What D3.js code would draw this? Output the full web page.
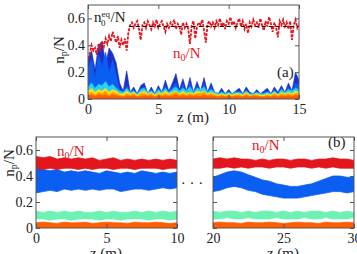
<!DOCTYPE html>
<html>
<head>
<meta charset="utf-8">
<script src="https://cdn.jsdelivr.net/npm/d3@7"></script>
<style>
  body { margin: 0; background: #fff; }
  svg { display: block; }
  svg text { font-family: "Liberation Serif", "DejaVu Serif", serif; }
</style>
</head>
<body>
<script>
// panel (a): z = 0..15, red sampled every 0.125 m, the others every 0.25 m
var redA = [
  0.30,0.34,0.40,0.36,0.38,0.33,0.41,0.37,
  0.43,0.39,0.45,0.41,0.47,0.43,0.50,0.46,
  0.42,0.47,0.38,0.44,0.40,0.45,0.36,0.50,
  0.55,0.57,0.53,0.56,0.58,0.52,0.44,0.55,
  0.57,0.53,0.58,0.55,0.52,0.57,0.54,0.59,
  0.53,0.56,0.58,0.54,0.50,0.56,0.53,0.57,
  0.55,0.59,0.52,0.56,0.54,0.48,0.57,0.53,
  0.56,0.52,0.41,0.55,0.58,0.45,0.54,0.57,
  0.55,0.59,0.51,0.42,0.56,0.58,0.54,0.57,
  0.53,0.58,0.55,0.60,0.54,0.57,0.52,0.58,
  0.56,0.61,0.55,0.58,0.53,0.57,0.60,0.54,
  0.58,0.52,0.56,0.49,0.57,0.54,0.59,0.55,
  0.57,0.53,0.60,0.55,0.51,0.58,0.54,0.61,
  0.56,0.50,0.57,0.53,0.46,0.58,0.55,0.59,
  0.54,0.57,0.52,0.58,0.44,0.55,0.59,0.53,
  0.56];
var darkBlueA = [0.30,0.36,0.22,0.40,0.43,0.26,0.38,0.34,0.27,0.12,0.06,0.21,0.05,0.09,0.04,0.10,
  0.12,0.04,0.09,0.04,0.10,0.05,0.14,0.06,0.12,0.19,0.07,0.15,0.06,0.16,0.05,0.13,
  0.06,0.16,0.05,0.12,0.05,0.04,0.08,0.04,0.07,0.04,0.06,0.08,0.04,0.09,0.05,0.04,
  0.07,0.04,0.06,0.08,0.04,0.09,0.05,0.10,0.05,0.12,0.06,0.20,0.14];
var blueA = [0.22,0.30,0.16,0.33,0.24,0.35,0.20,0.29,0.18,0.07,0.05,0.10,0.05,0.07,0.04,0.08,
  0.09,0.04,0.07,0.04,0.08,0.05,0.10,0.05,0.09,0.12,0.06,0.11,0.05,0.12,0.05,0.10,
  0.06,0.11,0.05,0.09,0.05,0.04,0.06,0.04,0.05,0.04,0.05,0.06,0.04,0.07,0.04,0.04,
  0.05,0.04,0.05,0.06,0.04,0.07,0.04,0.08,0.05,0.09,0.05,0.12,0.10];
var cyanA = [0.09,0.12,0.08,0.11,0.10,0.13,0.09,0.11,0.08,0.06,0.05,0.08,0.05,0.06,0.04,0.07,
  0.08,0.05,0.06,0.04,0.07,0.05,0.08,0.05,0.07,0.09,0.06,0.08,0.06,0.09,0.05,0.08,
  0.07,0.09,0.05,0.07,0.05,0.04,0.05,0.04,0.05,0.04,0.05,0.05,0.04,0.06,0.04,0.04,
  0.05,0.04,0.04,0.05,0.04,0.06,0.04,0.07,0.05,0.07,0.06,0.08,0.07];
var yellowA = [0.06,0.08,0.05,0.07,0.06,0.08,0.05,0.07,0.06,0.04,0.04,0.06,0.04,0.05,0.03,0.05,
  0.06,0.04,0.05,0.03,0.05,0.04,0.06,0.04,0.05,0.06,0.04,0.06,0.04,0.05,0.04,0.06,
  0.05,0.06,0.04,0.05,0.04,0.03,0.04,0.03,0.04,0.03,0.04,0.04,0.03,0.05,0.03,0.03,
  0.04,0.03,0.03,0.04,0.03,0.05,0.03,0.05,0.04,0.05,0.04,0.06,0.05];
var orangeA = [0.04,0.05,0.03,0.05,0.04,0.06,0.03,0.05,0.04,0.03,0.02,0.04,0.03,0.04,0.02,0.04,
  0.04,0.03,0.04,0.02,0.04,0.03,0.04,0.03,0.04,0.05,0.03,0.04,0.03,0.04,0.03,0.04,
  0.04,0.05,0.03,0.04,0.03,0.02,0.03,0.02,0.03,0.02,0.03,0.03,0.02,0.04,0.02,0.03,
  0.03,0.02,0.02,0.03,0.02,0.04,0.02,0.04,0.03,0.04,0.03,0.04,0.04];
var darkOrangeA = [0.025,0.03,0.02,0.03,0.025,0.03,0.02,0.03,0.025,0.02,0.015,0.025,0.02,0.025,0.015,0.02,
  0.025,0.02,0.025,0.015,0.02,0.02,0.025,0.02,0.025,0.03,0.02,0.025,0.02,0.025,0.02,0.025,
  0.02,0.03,0.02,0.025,0.02,0.015,0.02,0.015,0.02,0.015,0.02,0.02,0.015,0.025,0.015,0.02,
  0.02,0.015,0.015,0.02,0.015,0.025,0.015,0.025,0.02,0.025,0.02,0.025,0.025];
var eqLevel = 0.54, eqStart = 2.9;

// panel (b): band limits every 0.5 m, left z = 0..10, right z = 20..30
var redHiL  = [0.55,0.54,0.55,0.53,0.54,0.53,0.54,0.53,0.54,0.52,0.53,0.54,0.52,0.53,0.52,0.53,0.52,0.53,0.52,0.53,0.52];
var redLoL  = [0.46,0.45,0.46,0.45,0.46,0.46,0.45,0.46,0.45,0.46,0.46,0.45,0.46,0.46,0.45,0.46,0.46,0.46,0.45,0.46,0.46];
var blueHiL = [0.50,0.45,0.44,0.45,0.43,0.44,0.43,0.44,0.43,0.42,0.44,0.43,0.42,0.43,0.42,0.44,0.43,0.42,0.43,0.42,0.43];
var blueLoL = [0.27,0.28,0.29,0.28,0.30,0.29,0.30,0.29,0.30,0.29,0.30,0.30,0.28,0.29,0.30,0.30,0.29,0.30,0.31,0.30,0.31];
var mintHiL = [0.13,0.12,0.13,0.12,0.13,0.12,0.13,0.12,0.12,0.13,0.12,0.13,0.12,0.12,0.13,0.12,0.13,0.12,0.13,0.12,0.13];
var mintLoL = [0.07,0.07,0.06,0.07,0.07,0.06,0.07,0.07,0.07,0.06,0.07,0.07,0.06,0.07,0.07,0.07,0.06,0.07,0.07,0.06,0.07];
var orangeHiL = [0.04,0.045,0.04,0.035,0.045,0.04,0.04,0.045,0.035,0.04,0.045,0.04,0.04,0.035,0.045,0.04,0.04,0.045,0.04,0.035,0.04];

var redHiR  = [0.53,0.54,0.53,0.54,0.53,0.53,0.52,0.53,0.52,0.53,0.53,0.52,0.53,0.53,0.52,0.53,0.53,0.54,0.53,0.53,0.52];
var redLoR  = [0.46,0.46,0.47,0.46,0.47,0.46,0.47,0.47,0.46,0.47,0.47,0.46,0.47,0.47,0.46,0.47,0.46,0.47,0.46,0.46,0.46];
var blueHiR = [0.39,0.41,0.43,0.44,0.43,0.41,0.39,0.37,0.36,0.34,0.33,0.32,0.32,0.33,0.34,0.36,0.38,0.40,0.40,0.39,0.39];
var blueLoR = [0.28,0.29,0.31,0.32,0.31,0.29,0.28,0.26,0.25,0.24,0.23,0.23,0.23,0.24,0.25,0.26,0.27,0.28,0.28,0.27,0.28];
var mintHiR = [0.13,0.12,0.13,0.13,0.12,0.13,0.12,0.13,0.13,0.12,0.13,0.12,0.13,0.12,0.13,0.13,0.12,0.13,0.12,0.13,0.12];
var mintLoR = [0.07,0.07,0.08,0.07,0.07,0.08,0.07,0.07,0.07,0.08,0.07,0.07,0.07,0.08,0.07,0.07,0.08,0.07,0.07,0.07,0.08];
var orangeHiR = [0.04,0.045,0.04,0.04,0.035,0.045,0.04,0.04,0.045,0.04,0.035,0.04,0.045,0.04,0.04,0.035,0.045,0.04,0.04,0.045,0.04];

var yTicks = [0, 0.2, 0.4, 0.6];

var col = {
  red: "#e3161e", darkBlue: "#1b2fc9", blue: "#0a5ef2", cyan: "#26d2f2",
  yellow: "#f4e21a", orange: "#ff9a00", darkOrange: "#ff5c00", mint: "#6ef2b4"
};

var svg = d3.select("body").append("svg")
  .attr("width", 357).attr("height", 254);

var clipN = 0;
function makePanel(xDom, xr, yr, xTicks, showYLabels) {
  var x = d3.scaleLinear().domain(xDom).range(xr);
  var y = d3.scaleLinear().domain([0, 0.7]).range(yr);
  var id = "clip" + (clipN++);
  svg.append("clipPath").attr("id", id).append("rect")
    .attr("x", xr[0]).attr("y", yr[1]).attr("width", xr[1] - xr[0]).attr("height", yr[0] - yr[1]);
  var plot = svg.append("g").attr("clip-path", "url(#" + id + ")");
  return { x: x, y: y, plot: plot, xTicks: xTicks, showYLabels: showYLabels };
}

function drawFrame(p) {
  var x = p.x, y = p.y;
  var x0 = x.range()[0], x1 = x.range()[1], y0 = y.range()[0], y1 = y.range()[1];
  var g = svg.append("g");
  var yFmt = function(d) { return d === 0 ? "0" : d3.format(".1f")(d); };

  g.append("g").attr("transform", "translate(0," + y0 + ")")
    .call(d3.axisBottom(x).tickValues(p.xTicks).tickSize(-4).tickPadding(5).tickFormat(d3.format("d")));
  g.append("g").attr("transform", "translate(0," + y1 + ")")
    .call(d3.axisTop(x).tickValues(p.xTicks).tickSize(-4).tickFormat(""));
  g.append("g").attr("transform", "translate(" + x0 + ",0)")
    .call(d3.axisLeft(y).tickValues(yTicks).tickSize(-4).tickPadding(3)
      .tickFormat(p.showYLabels ? yFmt : function() { return ""; }));
  g.append("g").attr("transform", "translate(" + x1 + ",0)")
    .call(d3.axisRight(y).tickValues(yTicks).tickSize(-4).tickFormat(""));

  g.selectAll(".domain").remove();
  g.selectAll(".tick line").attr("stroke", "#555");
  g.selectAll("text").attr("font-size", 14).attr("fill", "#222");
  g.append("rect").attr("x", x0).attr("y", y1).attr("width", x1 - x0).attr("height", y0 - y1)
    .attr("fill", "none").attr("stroke", "#555").attr("stroke-width", 1);
}

function zSteps(start, step, n) { return d3.range(n).map(function(i) { return start + i * step; }); }

// ---- panel (a)
var pa = makePanel([0, 15], [88, 299], [99, 5], [0, 5, 10, 15], true);
var zA = zSteps(0, 0.25, 61);
var zRed = zSteps(0, 0.125, 121);

function fillUp(p, zs, vals, color) {
  var area = d3.area()
    .x(function(d, i) { return p.x(zs[i]); })
    .y0(p.y(0))
    .y1(function(d) { return p.y(d); });
  p.plot.append("path").datum(vals).attr("d", area).attr("fill", color)
    .attr("stroke", color).attr("stroke-width", 0.6);
}
fillUp(pa, zA, darkBlueA, col.darkBlue);
fillUp(pa, zA, blueA, col.blue);
fillUp(pa, zA, cyanA, col.cyan);
fillUp(pa, zA, yellowA, col.yellow);
fillUp(pa, zA, orangeA, col.orange);
fillUp(pa, zA, darkOrangeA, col.darkOrange);

pa.plot.append("path").datum(redA)
  .attr("d", d3.line().x(function(d, i) { return pa.x(zRed[i]); }).y(function(d) { return pa.y(d); }))
  .attr("fill", "none").attr("stroke", col.red).attr("stroke-width", 1.8)
  .attr("stroke-dasharray", "3,1.2");

pa.plot.append("line")
  .attr("x1", pa.x(eqStart)).attr("x2", pa.x(15))
  .attr("y1", pa.y(eqLevel)).attr("y2", pa.y(eqLevel))
  .attr("stroke", "#111").attr("stroke-width", 1.2).attr("stroke-dasharray", "4,3");

drawFrame(pa);

// ---- panel (b)
var pbL = makePanel([0, 10], [36, 177], [228, 137], [0, 5, 10], true);
var pbR = makePanel([20, 30], [213, 354], [228, 137], [20, 25, 30], false);

function band(p, zs, lo, hi, color) {
  var area = d3.area()
    .x(function(d, i) { return p.x(zs[i]); })
    .y0(function(d, i) { return p.y(lo[i]); })
    .y1(function(d) { return p.y(d); });
  p.plot.append("path").datum(hi).attr("d", area).attr("fill", color)
    .attr("stroke", color).attr("stroke-width", 0.8);
}

var zL = zSteps(0, 0.5, 21), zR = zSteps(20, 0.5, 21);
var zeros = zL.map(function() { return 0; });

band(pbL, zL, zeros, orangeHiL, col.darkOrange);
band(pbL, zL, mintLoL, mintHiL, col.mint);
band(pbL, zL, blueLoL, blueHiL, col.blue);
band(pbL, zL, redLoL, redHiL, col.red);

band(pbR, zR, zeros, orangeHiR, col.darkOrange);
band(pbR, zR, mintLoR, mintHiR, col.mint);
band(pbR, zR, blueLoR, blueHiR, col.blue);
band(pbR, zR, redLoR, redHiR, col.red);

drawFrame(pbL);
drawFrame(pbR);

// ---- labels
function yLabel(x, y) {
  var t = svg.append("text").attr("transform", "translate(" + x + "," + y + ") rotate(-90)")
    .attr("text-anchor", "middle").attr("font-size", 15).attr("fill", "#222");
  t.append("tspan").text("n");
  t.append("tspan").attr("font-size", 10).attr("dy", 3).text("p");
  t.append("tspan").attr("dy", -3).text("/N");
}
yLabel(64, 50);
yLabel(14, 163);

function xLabel(x, y) {
  svg.append("text").attr("x", x).attr("y", y).attr("text-anchor", "middle")
    .attr("font-size", 15).attr("fill", "#222").text("z (m)");
}
xLabel(193, 122);
xLabel(106, 258);
xLabel(283, 258);

function n0Label(x, y) {
  var t = svg.append("text").attr("x", x).attr("y", y).attr("font-size", 15).attr("fill", col.red);
  t.append("tspan").text("n");
  t.append("tspan").attr("font-size", 10).attr("dy", 3).text("0");
  t.append("tspan").attr("dy", -3).text("/N");
}
n0Label(173, 58);
n0Label(57, 156);
n0Label(252, 150);

var eq = svg.append("text").attr("x", 94).attr("y", 22).attr("font-size", 15).attr("fill", "#222");
eq.append("tspan").text("n");
eq.append("tspan").attr("font-size", 9).attr("dy", -5).text("eq");
eq.append("tspan").attr("font-size", 9).attr("dx", -9).attr("dy", 9).text("0");
eq.append("tspan").attr("font-size", 15).attr("dx", 5).attr("dy", -4).text("/N");

svg.append("text").attr("x", 277).attr("y", 77).attr("font-size", 15).attr("fill", "#222").text("(a)");
svg.append("text").attr("x", 328).attr("y", 147).attr("font-size", 15).attr("fill", "#222").text("(b)");
svg.append("text").attr("x", 192).attr("y", 188).attr("text-anchor", "middle")
  .attr("font-size", 15).attr("fill", "#222").text("· · ·");
</script>
</body>
</html>
